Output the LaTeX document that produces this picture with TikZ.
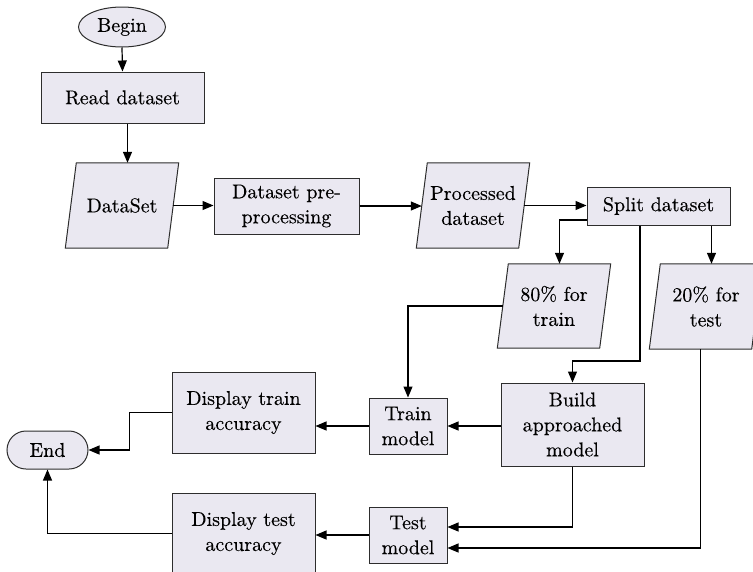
\documentclass[tikz,border=0pt]{standalone}
\usepackage{fontspec}
\newfontfamily\lmthick{lmroman10-regular.otf}[FakeBold=0.25]
\usetikzlibrary{arrows.meta,shapes.geometric}
\pgfdeclarelayer{bg}
\pgfsetlayers{bg,main}
\definecolor{boxfill}{RGB}{234,232,241}
\definecolor{edgec}{RGB}{45,45,45}
\begin{document}
\begin{tikzpicture}[x=1pt,y=-1pt,
  every node/.style={font=\lmthick\fontsize{20}{25}\selectfont, inner sep=0pt, align=center},
  box/.style 2 args={draw=edgec, fill=boxfill, line width=1pt, minimum width=#1, minimum height=#2},
  para/.style 2 args={minimum width=#1, minimum height=#2},
  pshape/.style={draw=edgec, fill=boxfill, line width=1pt},
  arr/.style={draw=black, line width=1.2pt, -{Triangle[length=11pt,width=9pt]}}
]
\useasboundingbox (0,0) rectangle (753,571);
\clip (0,0) rectangle (753,571);

\node[ellipse, draw=edgec, fill=boxfill, line width=1pt, minimum width=87, minimum height=40] (begin) at (122,27) {Begin};
\node[box={163}{51}] (read) at (122.5,97.5) {Read dataset};
\node[para={102}{85}] (ds) at (122,205.5) {DataSet};
\node[box={145}{56}] (pre) at (286.5,206) {Dataset pre-\\processing};
\node[para={102}{85}] (proc) at (473,205.5) {Processed\\dataset};
\node[box={143}{38}] (split) at (658.5,206) {Split dataset};
\node[para={102}{84}] (p80) at (554,306) {80\% for\\train};
\node[para={102}{85}] (p20) at (706,306.5) {20\% for\\test};
\node[box={143}{83}] (build) at (572.5,424.5) {Build\\approached\\model};
\node[box={78}{56}] (train) at (408,426) {Train\\model};
\node[box={78}{56}] (test) at (408,535) {Test\\model};
\node[box={143}{81}] (dtrain) at (243.5,412.5) {Display train\\accuracy};
\node[box={143}{81}] (dtest) at (243.5,533.5) {Display test\\accuracy};
\node[draw=edgec, fill=boxfill, line width=1pt, rounded corners=19pt, minimum width=81, minimum height=38] (end) at (47.5,450) {End};

\begin{pgfonlayer}{bg}
\foreach \n in {ds,proc,p80,p20}{
  \draw[pshape] ([xshift=5.5pt]\n.north west) -- ([xshift=5.5pt]\n.north east)
    -- ([xshift=-5.5pt]\n.south east) -- ([xshift=-5.5pt]\n.south west) -- cycle;
}
\end{pgfonlayer}

\coordinate (dstop) at ([xshift=5.5pt]ds.north);
\coordinate (p80top) at ([xshift=5.5pt]p80.north);
\coordinate (p20top) at ([xshift=5.5pt]p20.north);
\coordinate (p20bot) at ([xshift=-5.5pt]p20.south);
\coordinate (sx) at (640,0);
\coordinate (k1) at (640,361);

\draw[arr] (begin.south) -- (read.north);
\draw[arr] (read.south -| dstop) -- (dstop);
\draw[arr] (ds.east) -- (ds.east -| pre.west);
\draw[arr] (pre.east) -- (pre.east -| proc.west);
\draw[arr] (proc.east) -- (proc.east -| split.west);
\draw[arr] ([yshift=-14pt]split.west) -| (p80top);
\draw[arr] (split.south -| p20top) -- (p20top);
\draw[arr] (split.south -| sx) -- (k1) -| (build.north);
\draw[arr] (p80.west) -| (train.north);
\draw[arr] (build.west |- train.east) -- (train.east);
\draw[arr] (train.west) -- (train.west -| dtrain.east);
\draw[arr] (build.south) |- ([yshift=8pt]test.east);
\draw[arr] (p20bot) |- ([yshift=-13pt]test.east);
\draw[arr] (test.west) -- (test.west -| dtest.east);
\draw[arr] (dtrain.west) -- ++(-42,0) |- (end.east);
\draw[arr] (dtest.west) -| (end.south);
\end{tikzpicture}
\end{document}
